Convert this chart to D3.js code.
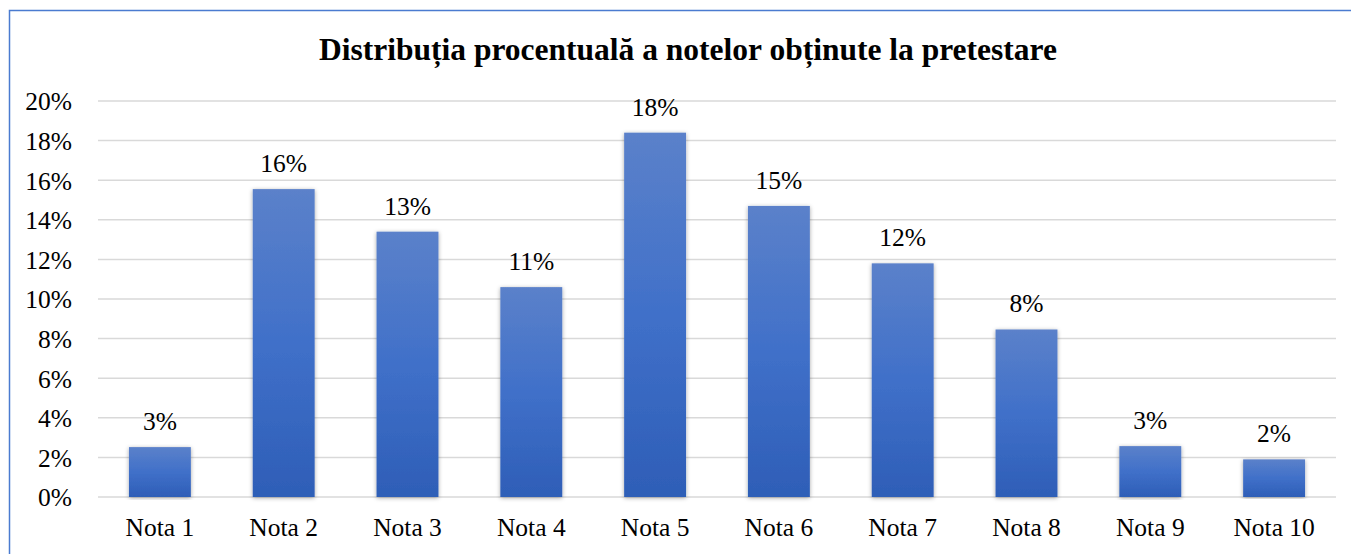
<!DOCTYPE html>
<html>
<head>
<meta charset="utf-8">
<script src="https://cdn.jsdelivr.net/npm/d3@7"></script>
<style>
    body { margin: 0; background: #fff; }
    svg { display: block; }
</style>
</head>
<body>
<div id="chart"></div>
<script>
// values
const categories = ["Nota 1", "Nota 2", "Nota 3", "Nota 4", "Nota 5", "Nota 6", "Nota 7", "Nota 8", "Nota 9", "Nota 10"]
const shares = [0.0252, 0.1555, 0.134, 0.106, 0.184, 0.147, 0.118, 0.0846, 0.0257, 0.019]
const yTicks = [0, 0.02, 0.04, 0.06, 0.08, 0.10, 0.12, 0.14, 0.16, 0.18, 0.20]
const title = "Distribuția procentuală a notelor obținute la pretestare"

const W = 1351, H = 554
const margin = {top: 100, right: 15, bottom: 57, left: 98}
const font = "'Liberation Serif', 'Times New Roman', serif"

const svg = d3.select("#chart").append("svg")
    .attr("width", W)
    .attr("height", H)

const defs = svg.append("defs")
const grad = defs.append("linearGradient")
    .attr("id", "barGrad")
    .attr("x1", 0).attr("y1", 0).attr("x2", 0).attr("y2", 1)
grad.append("stop").attr("offset", "0%").attr("stop-color", "#5b81ca")
grad.append("stop").attr("offset", "50%").attr("stop-color", "#4070c9")
grad.append("stop").attr("offset", "100%").attr("stop-color", "#2e5eb7")

const shadow = defs.append("filter")
    .attr("id", "shadow")
    .attr("x", "-20%").attr("y", "-5%").attr("width", "140%").attr("height", "110%")
shadow.append("feDropShadow")
    .attr("dx", 0).attr("dy", 1)
    .attr("stdDeviation", 2)
    .attr("flood-color", "#000")
    .attr("flood-opacity", 0.35)

// outer frame
svg.append("rect")
    .attr("x", 9.5).attr("y", 10.5)
    .attr("width", W + 10).attr("height", H + 10)
    .attr("fill", "none")
    .attr("stroke", "#4a7bd0")
    .attr("stroke-width", 1.5)

svg.append("text")
    .attr("x", 688)
    .attr("y", 60)
    .attr("text-anchor", "middle")
    .style("font-family", font)
    .style("font-weight", "bold")
    .style("font-size", "31.5px")
    .text(title)

const x = d3.scaleBand()
    .domain(categories)
    .range([margin.left, W - margin.right])
    .paddingInner(0.5)
    .paddingOuter(0.25)

const y = d3.scaleLinear()
    .domain([0, 0.2])
    .range([H - margin.bottom, margin.top + 1])

// grid
svg.append("g")
    .selectAll("line")
    .data(yTicks)
    .join("line")
    .attr("x1", margin.left)
    .attr("x2", W - margin.right)
    .attr("y1", d => y(d))
    .attr("y2", d => y(d))
    .attr("stroke", "#d9d9d9")
    .attr("stroke-width", 1.5)

// y axis labels
const yAxis = svg.append("g")
    .attr("transform", `translate(${margin.left - 26}, 0)`)
    .call(d3.axisLeft(y).tickValues(yTicks).tickFormat(d3.format(".0%")).tickSize(0).tickPadding(0))
yAxis.attr("font-family", null).attr("font-size", null)
yAxis.select(".domain").remove()
yAxis.selectAll("text")
    .attr("dy", "0.35em")
    .style("font-family", font)
    .style("font-size", "25.5px")
    .attr("fill", "#000")

// x axis labels
const xAxis = svg.append("g")
    .attr("transform", `translate(0, ${H - margin.bottom})`)
    .call(d3.axisBottom(x).tickSize(0).tickPadding(0))
xAxis.attr("font-family", null).attr("font-size", null)
xAxis.select(".domain").remove()
xAxis.selectAll("text")
    .attr("y", 39)
    .attr("dy", 0)
    .style("font-family", font)
    .style("font-size", "25.5px")
    .attr("fill", "#000")

const data = categories.map((c, i) => ({c, v: shares[i]}))

svg.append("g")
    .selectAll("rect")
    .data(data)
    .join("rect")
    .attr("x", d => x(d.c))
    .attr("y", d => y(d.v))
    .attr("width", x.bandwidth())
    .attr("height", d => y(0) - y(d.v))
    .attr("fill", "url(#barGrad)")
    .attr("filter", "url(#shadow)")

svg.append("g")
    .selectAll("text")
    .data(data)
    .join("text")
    .attr("x", d => x(d.c) + x.bandwidth() / 2)
    .attr("y", d => y(d.v) - 17)
    .attr("text-anchor", "middle")
    .style("font-family", font)
    .style("font-size", "25.5px")
    .text(d => d3.format(".0%")(d.v))
</script>
</body>
</html>
